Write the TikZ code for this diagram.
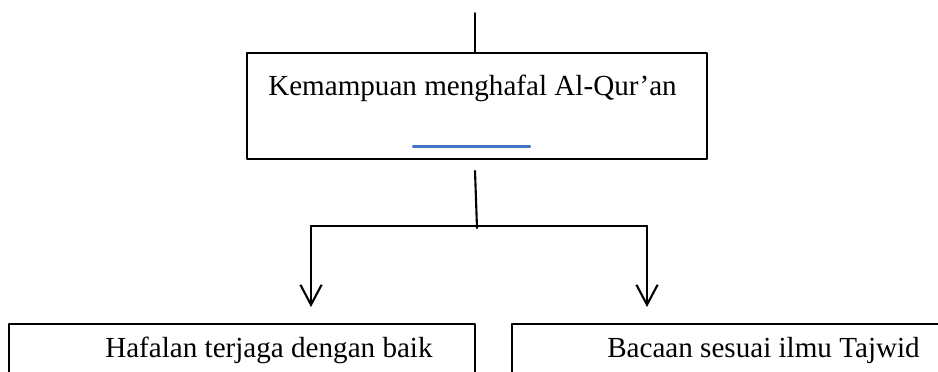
\documentclass[tikz,border=0pt]{standalone}
\usepackage{fontspec}
\setmainfont{Liberation Serif}
\usetikzlibrary{arrows.meta,positioning,calc}

\begin{document}
\begin{tikzpicture}[line cap=round,line join=round,x=0.025cm,y=-0.025cm,
  kotak/.style={draw,line width=1.1pt,rectangle,inner sep=0pt},
  teks/.style={font=\fontsize{20.7}{24}\selectfont,inner sep=0pt},
  garis/.style={line width=1.5pt},
  panah/.style={garis,-{Straight Barb[length=0.5cm,width=0.53cm,line width=1.5pt]}}]
\useasboundingbox (0,0) rectangle (938,371);
% kotak utama
\node[kotak,minimum width=11.5cm,minimum height=2.65cm] (kemampuan) at (477,106) {};
\node[teks,anchor=base] (judul) at (472.5,95) {Kemampuan menghafal Al-Qur'an};
\coordinate (biru1) at (413,146.5);
\coordinate (biru2) at (530,146.5);
\draw[color={rgb,255:red,68;green,114;blue,196},line width=1.6pt] (biru1) -- (biru2);
\coordinate (atas) at (475,13);
\draw[line width=1.1pt] (atas) -- (atas |- kemampuan.north);
% cabang
\coordinate (turun) at (475,171);
\coordinate (cabang) at (477,228);
\coordinate (kiri) at (311,226);
\coordinate (kanan) at (647,226);
\draw[garis] (turun) -- (cabang);
\draw[garis] (kiri) -- (kanan);
% kotak bawah
\node[kotak,minimum width=11.65cm,minimum height=2cm,anchor=north west] (hafalan) at (8,323) {};
\node[kotak,minimum width=11cm,minimum height=2cm,anchor=north west] (bacaan) at (511,323) {};
\node[teks,anchor=base west] (teks1) at (105,357) {Hafalan terjaga dengan baik};
\node[teks,anchor=base west] (teks2) at (607,357) {Bacaan sesuai ilmu Tajwid};
\draw[panah] (kiri) -- ($(kiri |- hafalan.north)+(0,-16)$);
\draw[panah] (kanan) -- ($(kanan |- bacaan.north)+(0,-16)$);
\end{tikzpicture}
\end{document}
